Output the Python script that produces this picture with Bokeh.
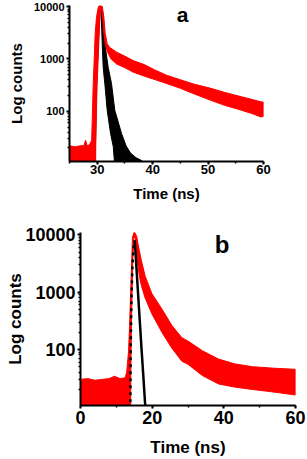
from bokeh.plotting import figure
from bokeh.layouts import column
from bokeh.models import Range1d, SingleIntervalTicker, FixedTicker, Label, BasicTickFormatter
from bokeh.embed import file_html
from bokeh.resources import INLINE

FONT = "Liberation Sans"

# ---------------- panel a : upper / lower edges of the decay traces ----------------
red_a_top_x = [25, 26, 27, 27.6, 27.9, 28.2, 28.6, 29.0, 29.15, 29.28, 29.45, 29.63, 29.87, 30.18, 30.4,
               30.7, 30.95, 31.2, 31.44, 31.8, 32.2, 33.5, 35, 36.5, 38.5, 40.5, 42.5, 45, 47.5, 50.5,
               53, 56, 58, 59.5, 60]
red_a_top_y = [22, 21, 22, 22, 28, 22, 23, 28, 105, 340, 930, 3000, 6300, 9500, 10500,
               10500, 9500, 6300, 3100, 1950, 1680, 1350, 1130, 930, 780, 610, 490, 400, 330, 275,
               230, 190, 168, 152, 150]
red_a_bot_x = [25, 29.7, 29.75, 29.86, 29.98, 30.16, 30.35, 30.55, 30.75, 31.0, 31.2, 31.44, 31.8, 32.2,
               32.5, 33.5, 35, 36.5, 38.5, 40.5, 42.5, 45, 47.5, 50.5, 53, 56, 58, 59.5, 60]
red_a_bot_y = [8, 8, 28, 105, 340, 930, 3000, 8000, 9000, 6000, 3100, 1950, 1400, 1150,
               1000, 800, 680, 560, 470, 400, 340, 275, 215, 162, 130, 105, 90, 78, 80]

irf_a_top_x = [29.3, 29.4, 29.7, 30.0, 30.3, 30.9, 31.2, 31.55, 31.98, 32.58, 33.17, 34.38, 35.2, 36.0,
               37.0, 38.0, 39.0]
irf_a_top_y = [8, 110, 1000, 5000, 10000, 10000, 4000, 1450, 690, 340, 105, 38, 22, 16,
               13, 11.5, 9]
irf_a_bot_x = [29.3, 29.6, 29.9, 30.2, 30.5, 30.7, 30.95, 31.08, 31.37, 31.8, 32.4, 32.9, 33.2, 39.0]
irf_a_bot_y = [8, 8, 300, 2000, 8000, 8000, 1450, 690, 340, 105, 38, 21, 8, 8]

# ---------------- panel b ----------------
red_b_top_x = [0, 2, 4, 6, 8, 9.5, 11, 12.5, 12.9, 13.4, 13.7, 14.0, 14.3, 14.5, 15.0, 15.71, 16.0,
               16.93, 18.05, 19.9, 22.7, 25.5, 28.3, 30, 34, 38.5, 43, 48, 54, 57, 60]
red_b_top_y = [30, 31, 29, 30, 31, 34, 31, 32, 41, 91, 263, 980, 3700, 9000, 11500, 9300, 7200,
               3700, 1900, 950, 510, 263, 160, 140, 95, 68, 56, 50, 47, 46, 45]
red_b_bot_x = [0, 14.0, 14.05, 14.2, 14.4, 14.6, 14.9, 15.3, 15.5, 16.0, 16.5, 17.0, 18.0, 19.9, 22.7,
               25.5, 28.3, 30, 34, 38.5, 43, 48, 54, 60]
red_b_bot_y = [8, 8, 41, 263, 1000, 3700, 9000, 9000, 6000, 3000, 1800, 1300, 800, 420, 200,
               105, 62, 55, 35, 25, 22, 20, 18, 16]

irf_b_rise_x = [13.9, 14.0, 14.2, 14.5, 14.9, 15.1]
irf_b_rise_y = [9, 100, 700, 3000, 7000, 8000]
irf_b_fall_x = [15.1, 15.3, 16.0, 17.0, 17.5, 18.0, 18.2]
irf_b_fall_y = [8000, 5500, 1100, 110, 37, 12, 9]

x_ticks_a = 10
x_ticks_b = 20
y_major = [100, 1000, 10000]
y_minor = [m * 10 ** e for e in (1, 2, 3) for m in range(2, 10)]

RED = "#FF0000"


def style(p, tick_fs, ytick_fs, lab_fs, xtick_standoff, xlab_standoff, ylab_standoff):
    p.xgrid.visible = False
    p.ygrid.visible = False
    p.outline_line_color = None
    p.frame_align = False
    for ax in (p.xaxis[0], p.yaxis[0]):
        ax.axis_line_width = 2
        ax.axis_line_color = "black"
        ax.major_tick_line_width = 2
        ax.major_tick_out = 3
        ax.major_tick_in = 0
        ax.minor_tick_line_width = 1.5
        ax.minor_tick_out = 2
        ax.minor_tick_in = 0
        ax.major_label_text_font = FONT
        ax.major_label_text_font_style = "bold"
        ax.major_label_text_color = "black"
        ax.axis_label_text_font = FONT
        ax.axis_label_text_font_style = "bold"
        ax.axis_label_text_font_size = lab_fs
        ax.axis_label_text_color = "black"
    p.xaxis.major_label_text_font_size = tick_fs
    p.yaxis.major_label_text_font_size = ytick_fs
    p.xaxis.major_label_standoff = xtick_standoff
    p.yaxis.major_label_standoff = 2
    p.xaxis.axis_label_standoff = xlab_standoff
    p.yaxis.axis_label_standoff = ylab_standoff
    p.yaxis.ticker = FixedTicker(ticks=y_major, minor_ticks=y_minor)
    p.yaxis.formatter = BasicTickFormatter(use_scientific=False)
    p.yaxis.major_label_overrides = {t: str(t) for t in y_major}


# ---------------- figure a ----------------
pa = figure(width=307, height=205, x_range=Range1d(25, 60), y_range=Range1d(11, 10500),
            y_axis_type="log", output_backend="svg", toolbar_location=None,
            min_border_left=69, min_border_right=44, min_border_top=5, min_border_bottom=44,
            x_axis_label="Time (ns)", y_axis_label="Log counts")
style(pa, "13px", "11px", "15px", 0, 8, 6)
pa.xaxis.ticker = SingleIntervalTicker(interval=x_ticks_a, num_minor_ticks=2)
pa.patch(irf_a_top_x + irf_a_bot_x[::-1], irf_a_top_y + irf_a_bot_y[::-1],
         fill_color="black", line_color="black", line_width=1)
pa.patch(red_a_top_x + red_a_bot_x[::-1], red_a_top_y + red_a_bot_y[::-1],
         fill_color=RED, line_color=RED, line_width=1)
pa.add_layout(Label(x=45.4, y=7080, text="a", text_font=FONT, text_font_style="bold",
                    text_font_size="21px", text_align="center", text_baseline="alphabetic",
                    text_color="black"))

# ---------------- figure b ----------------
pb = figure(width=307, height=254, x_range=Range1d(0, 60), y_range=Range1d(10.5, 11000),
            y_axis_type="log", output_backend="svg", toolbar_location=None,
            min_border_left=80, min_border_right=12, min_border_top=27, min_border_bottom=53,
            x_axis_label="Time (ns)", y_axis_label="Log counts")
style(pb, "18px", "18px", "17px", 2, 11, -3)
pb.xaxis.ticker = SingleIntervalTicker(interval=x_ticks_b, num_minor_ticks=2)
pb.patch(red_b_top_x + red_b_bot_x[::-1], red_b_top_y + red_b_bot_y[::-1],
         fill_color=RED, line_color=RED, line_width=1)
pb.line(irf_b_rise_x, irf_b_rise_y, line_color="black", line_width=2.5, line_dash="3 4")
pb.line(irf_b_fall_x, irf_b_fall_y, line_color="black", line_width=2.5)
pb.add_layout(Label(x=39.5, y=6900, text="b", text_font=FONT, text_font_style="bold",
                    text_font_size="24px", text_align="center", text_baseline="alphabetic",
                    text_color="black"))

layout = column(pa, pb, spacing=0)
open("out.html", "w").write(file_html(layout, INLINE))
